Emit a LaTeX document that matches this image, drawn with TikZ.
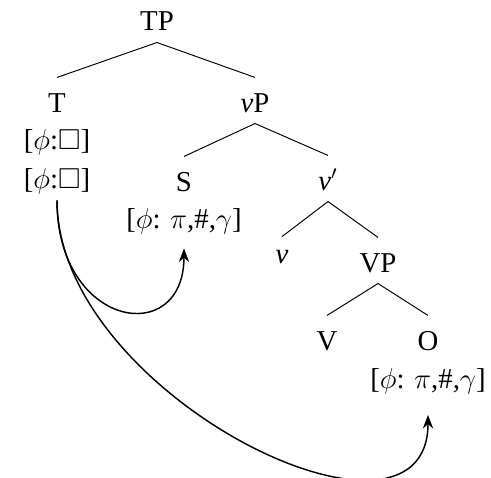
\documentclass[tikz,border=0pt]{standalone}
\usepackage{amsmath, amssymb}
\usepackage{fontspec}
\setmainfont{Liberation Serif}
\usetikzlibrary{arrows.meta}

\begin{document}
\begin{tikzpicture}[x=0.01465cm, y=-0.01465cm, >=Stealth,
    lbl/.style={anchor=base, inner sep=2pt, text height=12.2pt, text depth=2.6pt,
      font=\fontsize{12}{14}\selectfont},
    feat/.style={anchor=base, inner sep=2pt, text depth=3pt,
      font=\fontsize{12}{14}\selectfont},
    agree/.style={->, semithick, shorten >=3.3pt}]
  \useasboundingbox (0,0) rectangle (491,477);
  % tree labels
  \node[lbl] (tp) at (157,31) {TP};
  \node[lbl] (t) at (57,112) {T};
  \node[lbl] (vp) at (255,112) {\textit{v}P};
  \node[lbl] (s) at (184,191) {S};
  \node[lbl] (vbar) at (328,190) {\textit{v}$'$};
  \node[lbl, text height=8.8pt] (v) at (282,263) {\textit{v}};
  \node[lbl] (vpp) at (378,272) {VP};
  \node[lbl] (verb) at (327,350) {V};
  \node[lbl] (obj) at (428,350) {O};
  % features
  \node[feat] (tf1) at (57,149) {[$\phi$:$\square$]};
  \node[feat] (tf2) at (57,188) {[$\phi$:$\square$]};
  \node[feat] (sf) at (184,228) {[$\phi$: $\pi$,\#,$\gamma$]};
  \node[feat] (of) at (428,388) {[$\phi$: $\pi$,\#,$\gamma$]};
  % branches
  \foreach \a/\b in {tp/t, tp/vp, vp/s, vp/vbar, vbar/v, vbar/vpp, vpp/verb, vpp/obj}
    \draw (\a.south) -- (\b.north);
  % agreement
  \draw[agree] (tf2.south) .. controls +(0,128) and +(0,108) .. (sf.south);
  \draw[agree, shorten >=6pt] (tf2.south) .. controls +(0,195) and +(0,175) .. (of.south);
\end{tikzpicture}
\end{document}
